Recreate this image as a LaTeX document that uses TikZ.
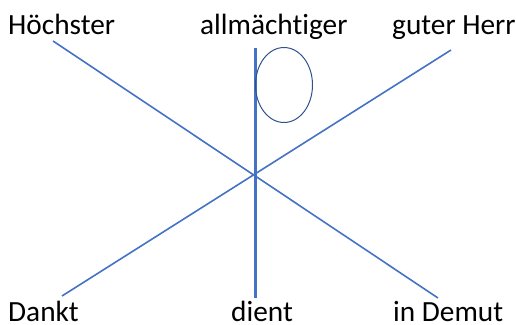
\documentclass[tikz,border=0pt]{standalone}
\usepackage{fontspec}
\setmainfont[Ligatures=NoCommon]{Carlito}
\definecolor{lineblue}{HTML}{4472C4}
\definecolor{darkblue}{HTML}{2F528F}
\begin{document}
\begin{tikzpicture}[x=1pt,y=-1pt,
  lbl/.style={anchor=base west,inner sep=0pt,font=\fontsize{29.3}{31}\selectfont},
  diag/.style={draw=lineblue,line width=1.6pt},
  stem/.style={draw=lineblue,line width=3pt},
  loop/.style={draw=darkblue,line width=1pt}]
\useasboundingbox (0,0) rectangle (516,324);
\node[lbl] (hoe) at (8,34) {Höchster};
\node[lbl] (all) at (200,34) {allmächtiger};
\node[lbl] (gut) at (392,34) {guter Herr};
\node[lbl] (dan) at (8,321) {Dankt};
\node[lbl] (die) at (231,321) {dient};
\node[lbl] (dem) at (393,321) {in Demut};
\coordinate (a1) at (53,41);
\coordinate (a2) at (438,298);
\coordinate (b1) at (62,296);
\coordinate (b2) at (451,50);
\coordinate (c1) at (255.5,48);
\coordinate (c2) at (255.5,298);
\coordinate (ec) at (284,85);
\draw[diag] (a1) -- (a2);
\draw[diag] (b1) -- (b2);
\draw[stem] (c1) -- (c2);
\draw[loop] (ec) ellipse [x radius=28.5, y radius=37.5];
\end{tikzpicture}
\end{document}
